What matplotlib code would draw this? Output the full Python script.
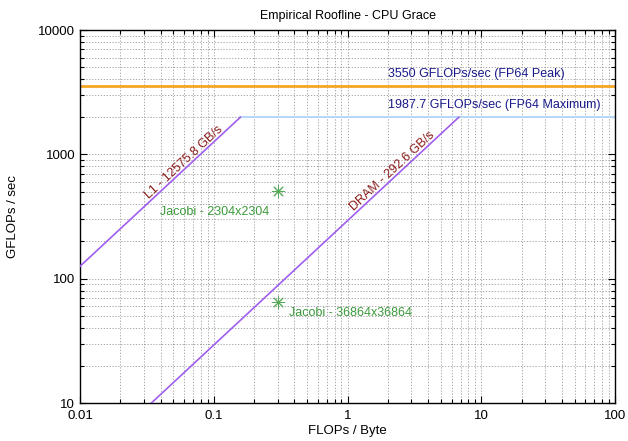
import numpy as np
import matplotlib
matplotlib.use('Agg')
from matplotlib import pyplot as plt
from matplotlib.ticker import LogLocator, NullFormatter, FixedLocator

plt.rcParams['font.family'] = ['Liberation Sans', 'DejaVu Sans']

# ceilings
peak_flops = 3550.0
max_flops = 1987.7
l1_bw = 12575.8
dram_bw = 292.6

# measured kernels
kernel_names = ['Jacobi - 2304x2304', 'Jacobi - 36864x36864']
kernel_ai = [0.30, 0.30]
kernel_gflops = [510.0, 65.0]

x_ticks = [0.01, 0.1, 1, 10, 100]
x_tick_labels = ['0.01', '0.1', '1', '10', '100']
y_ticks = [10, 100, 1000, 10000]
y_tick_labels = ['10', '100', '1000', '10000']

fs = 9

fig = plt.figure(figsize=(6.28, 4.41), dpi=100)
ax = fig.add_axes([80/628, 38/441, 535/628, 373/441])
ax.set_xscale('log')
ax.set_yscale('log')
ax.set_xlim(0.01, 100)
ax.set_ylim(10, 10000)

# grid
ax.grid(True, which='both', ls=(0, (1.5, 2)), color='#999999', lw=0.6, zorder=0)

# horizontal ceilings
ax.axhline(peak_flops, color='#f5a623', lw=2, zorder=2)
ridge_l1 = max_flops / l1_bw
ax.plot([ridge_l1, 100], [max_flops, max_flops], color='#b8d8f8', lw=1.5, zorder=2)

# bandwidth ceilings
xs = np.array([0.01, ridge_l1])
ax.plot(xs, l1_bw * xs, color='#a05ef0', lw=1.2, zorder=3)
xs = np.array([10 / dram_bw, max_flops / dram_bw])
ax.plot(xs, dram_bw * xs, color='#a05ef0', lw=1.2, zorder=3)

# kernels
ax.scatter(kernel_ai, kernel_gflops, marker=(8, 2, 0), s=80, color='#55aa55',
           lw=0.7, zorder=4)

# labels along the bandwidth lines (slope in screen pixels)
ang = np.degrees(np.arctan(124.3 / 133.75))
x0 = 0.033
ax.text(x0, l1_bw * x0 * 1.06, 'L1 - 12575.8 GB/s', rotation=ang, color='#8b1a1a',
        fontsize=fs, rotation_mode='anchor', ha='left', va='baseline')
x0 = 1.12
ax.text(x0, dram_bw * x0 * 1.06, 'DRAM - 292.6 GB/s', rotation=ang, color='#8b1a1a',
        fontsize=fs, rotation_mode='anchor', ha='left', va='baseline')
ax.text(2.0, peak_flops * 1.12, '3550 GFLOPs/sec (FP64 Peak)', color='#1a1a8b',
        fontsize=fs, ha='left', va='bottom')
ax.text(2.0, max_flops * 1.12, '1987.7 GFLOPs/sec (FP64 Maximum)', color='#1a1a8b',
        fontsize=fs, ha='left', va='bottom')
ax.text(0.0396, 344, kernel_names[0], color='#3a9a3a', fontsize=fs, va='center')
ax.text(0.366, 53, kernel_names[1], color='#3a9a3a', fontsize=fs, va='center')

# ticks
ax.xaxis.set_major_locator(FixedLocator(x_ticks))
ax.set_xticklabels(x_tick_labels)
ax.yaxis.set_major_locator(FixedLocator(y_ticks))
ax.set_yticklabels(y_tick_labels)
ax.xaxis.set_minor_locator(LogLocator(base=10, subs=np.arange(2, 10)))
ax.yaxis.set_minor_locator(LogLocator(base=10, subs=np.arange(2, 10)))
ax.xaxis.set_minor_formatter(NullFormatter())
ax.yaxis.set_minor_formatter(NullFormatter())
ax.tick_params(which='both', direction='in', top=True, right=True,
               labelsize=9.5, color='black')
ax.tick_params(axis='x', which='major', pad=5)
ax.tick_params(which='major', length=5, width=0.8)
ax.tick_params(which='minor', length=3, width=0.8)
for s in ax.spines.values():
    s.set_linewidth(1)

ax.set_title('Empirical Roofline - CPU Grace', fontsize=fs, pad=8)
ax.set_xlabel('FLOPs / Byte', fontsize=9.5, labelpad=2)
ax.set_ylabel('GFLOPs / sec', fontsize=9.5, labelpad=14)

plt.savefig('out.png', dpi=100)
